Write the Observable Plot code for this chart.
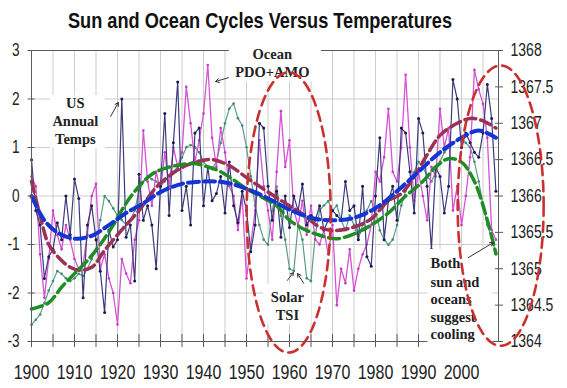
<!DOCTYPE html>
<html><head><meta charset="utf-8">
<script src="https://cdn.jsdelivr.net/npm/d3@7"></script>
<script src="https://cdn.jsdelivr.net/npm/@observablehq/plot@0.6"></script>
<style>
body{margin:0;background:#fff;}
svg{display:block;}
</style></head><body><div id="chart"></div>
<script>
// ---------- data ----------
const firstYear = 1900;
const usTemps = [
 0.75,-0.3,-0.6,-1.7,-1.25,-1.1,-0.55,-0.9,0.0,-0.8,
 0.35,-0.05,-2.1,-0.6,-0.2,-0.9,-1.55,-2.4,-0.7,-1.05,
 -0.9,2.0,-0.85,-0.6,-1.75,0.45,-0.5,-0.2,-0.6,-1.5,
 0.2,1.7,-0.4,1.1,2.35,-0.3,0.2,-0.6,1.3,1.4,
 -0.2,0.6,-0.1,0.05,0.4,-0.35,0.7,-0.2,-0.55,0.1,
 -0.3,-1.15,-0.6,1.5,1.4,0.2,-0.5,0.1,-0.85,0.0,
 -0.65,0.0,-0.3,0.25,-0.6,-0.4,-0.5,-0.2,-0.7,-0.5,
 -0.3,-0.4,-0.5,0.3,-0.3,-0.2,-0.9,0.2,-1.25,-1.45,
 0.0,1.2,-0.9,-0.1,0.2,-0.5,1.4,1.3,0.5,-0.35,
 1.6,1.3,0.2,-1.1,0.6,0.4,-0.35,0.2,2.4,2.0,
 1.0,1.3,1.1,0.9,0.8,1.3,2.3,1.6,0.1
];
const pdoAmo = [
 0.4,0.2,-1.2,-2.1,-1.3,-0.3,-0.8,-1.1,-0.6,-0.9,
 -1.3,-1.5,-1.4,-0.8,0.0,0.25,-1.5,-1.2,-1.7,-2.0,
 -2.65,-1.3,-1.6,-1.8,-0.9,-0.5,1.35,0.3,-0.2,0.5,
 0.1,0.9,0.2,1.0,0.6,0.9,2.25,1.5,0.7,1.15,
 1.7,2.7,1.2,0.6,1.4,0.9,0.2,0.0,-0.7,0.0,
 -1.7,-1.0,-0.3,1.15,0.2,-0.3,-0.9,0.5,1.75,0.6,
 1.15,-0.3,-0.6,-0.1,-0.8,-0.2,-0.9,-1.0,-0.7,-1.2,
 -0.6,-2.25,-1.5,-1.8,-1.1,-1.95,-1.5,-1.2,-1.0,-0.6,
 0.5,0.3,0.8,1.8,0.5,0.3,1.0,2.5,1.0,-0.1,
 0.5,0.0,-0.5,0.6,0.4,1.8,1.0,1.4,-0.3,0.2,
 -0.6,0.0,0.8,2.6,2.2,1.9,1.2,-0.7,-0.9
];
// Solar TSI, W/m² (right axis)
const solarTsi = [
 1364.23,1364.30,1364.37,1364.53,1364.70,1364.83,1364.97,1364.93,1364.87,1364.83,
 1364.87,1364.93,1364.90,1365.00,1365.13,1365.27,1365.67,1366.00,1365.93,1365.83,
 1365.73,1365.67,1365.60,1365.67,1365.80,1366.07,1366.20,1366.27,1366.23,1366.20,
 1366.13,1366.20,1366.27,1366.33,1366.40,1366.53,1366.67,1366.70,1366.67,1366.60,
 1366.47,1366.40,1366.37,1366.47,1366.73,1367.00,1367.20,1367.27,1367.07,1366.97,
 1366.67,1366.27,1365.87,1365.60,1365.40,1365.33,1365.80,1366.13,1365.73,1365.40,
 1365.00,1364.97,1365.60,1365.40,1364.87,1364.83,1365.47,1365.80,1365.87,1365.93,
 1365.80,1365.87,1365.67,1365.53,1365.73,1365.60,1365.40,1365.60,1365.80,1365.93,
 1365.80,1365.53,1365.40,1365.33,1365.40,1365.60,1365.87,1366.07,1366.20,1366.33,
 1366.47,1366.40,1366.27,1366.20,1366.33,1366.47,1366.60,1366.67,1366.73,1366.77,
 1366.80,1366.73,1366.67,1366.47,1366.20,1365.87,1365.60,1365.43,1365.20
];
// smoothed trends [year, value on left axis]
const usTrend = [[1900,0],[1903,-0.5],[1906,-0.75],[1910,-0.88],[1914,-0.82],[1918,-0.6],[1922,-0.35],[1926,-0.15],[1930,0.08],[1935,0.25],[1940,0.3],[1945,0.28],[1950,0.15],[1955,-0.05],[1960,-0.28],[1965,-0.45],[1970,-0.5],[1975,-0.45],[1980,-0.25],[1985,0.1],[1990,0.5],[1995,0.9],[2000,1.2],[2004,1.35],[2008,1.2]];
const pdoTrend = [[1900,0.3],[1902,-0.4],[1904,-1.0],[1907,-1.33],[1909,-1.47],[1911,-1.53],[1914,-1.47],[1917,-1.12],[1921,-0.7],[1925,-0.3],[1929,0.18],[1933,0.48],[1936,0.63],[1939,0.72],[1942,0.75],[1946,0.63],[1950,0.38],[1953,0.2],[1958,-0.09],[1963,-0.37],[1967,-0.64],[1970,-0.71],[1975,-0.64],[1979,-0.47],[1983,-0.1],[1986,0.05],[1989,0.4],[1992,0.85],[1995,1.25],[1999,1.5],[2002,1.6],[2005,1.55],[2008,1.4]];
const tsiTrend = [[1900,-2.33],[1904,-2.2],[1907,-1.88],[1910,-1.6],[1913,-1.33],[1916,-1.0],[1919,-0.6],[1922,-0.15],[1925,0.2],[1928,0.45],[1931,0.57],[1935,0.65],[1938,0.67],[1941,0.6],[1944,0.5],[1947,0.33],[1950,0.15],[1953,0.0],[1957,-0.2],[1960,-0.5],[1964,-0.71],[1967,-0.81],[1971,-0.88],[1975,-0.78],[1979,-0.6],[1983,-0.35],[1987,0.0],[1991,0.3],[1994,0.6],[1997,0.77],[2000,0.7],[2003,0.3],[2006,-0.5],[2008,-1.19]];

const leftTicks = [-3,-2,-1,0,1,2,3];
const rightTicks = [1364,1364.5,1365,1365.5,1366,1366.5,1367,1367.5,1368];
const xLabels = [1900,1910,1920,1930,1940,1950,1960,1970,1980,1990,2000];
const xTicks = [1900,1905,1910,1915,1920,1925,1930,1935,1940,1945,1950,1955,1960,1965,1970,1975,1980,1985,1990,1995,2000,2005];
const xDomain = [1900, 2008.6];

const title = "Sun and Ocean Cycles Versus Temperatures";
const centeredNotes = [
 {text:"US", x:1910.2, y:1.91},
 {text:"Annual", x:1910.2, y:1.54},
 {text:"Temps", x:1910.2, y:1.16},
 {text:"Ocean", x:1956.0, y:2.92},
 {text:"PDO+AMO", x:1956.0, y:2.55},
 {text:"Solar", x:1959.5, y:-2.09},
 {text:"TSI", x:1959.5, y:-2.46}
];
const leftNotes = [
 {text:"Both", x:1992.8, y:-1.39},
 {text:"sun and", x:1992.8, y:-1.78},
 {text:"oceans", x:1992.8, y:-2.13},
 {text:"suggest", x:1992.8, y:-2.50},
 {text:"cooling", x:1992.8, y:-2.86}
];
const noteBoxes = [
 {x1:1904.4, x2:1917.2, y1:0.98, y2:2.07},
 {x1:1946.0, x2:1967.4, y1:2.35, y2:3.15},
 {x1:1954.0, x2:1965.1, y1:-2.65, y2:-1.82},
 {x1:1992.2, x2:2007.3, y1:-3.15, y2:-1.1}
];
const arrows = [
 {x1:1918.4, y1:1.64, x2:1920.2, y2:1.93},
 {x1:1945.8, y1:2.44, x2:1942.8, y2:2.36},
 {x1:1959.5, y1:-1.74, x2:1960.9, y2:-1.58},
 {x1:1963.3, y1:-1.80, x2:1961.9, y2:-1.60},
 {x1:2001.6, y1:-1.27, x2:2007.4, y2:-0.96}
];
const ellipses = [
 {id:"e1", cx:1959.8, cy:-0.34, rx:9.77, ry:2.89},
 {id:"e2", cx:2009.1, cy:-0.2, rx:10.0, ry:2.89}
];

// ---------- build ----------
const tsiToLeft = t => (t - 1366) * 1.5;
const rows = usTemps.map((v, i) => ({year: firstYear + i, us: v, pdo: pdoAmo[i], tsi: tsiToLeft(solarTsi[i])}));
const ellipsePts = ellipses.flatMap(e => d3.range(0, 361, 4).map(a => ({
  id: e.id, x: e.cx + e.rx * Math.cos(a * Math.PI / 180), y: e.cy - e.ry * Math.sin(a * Math.PI / 180)
})));

const sansN = "'Liberation Sans','Arial',sans-serif";
const serif = "'Liberation Serif','Times New Roman',serif";
const gridC = "#cdcdcd", axisC = "#5a5a5a";
const noteStyle = {x: "x", y: "y", text: "text", fontFamily: serif, fontWeight: "bold", fontSize: 14.5, fill: "#222"};

const chart = Plot.plot({
  width: 567, height: 388,
  marginLeft: 31, marginRight: 69, marginTop: 50, marginBottom: 47,
  x: {domain: xDomain, axis: null},
  y: {domain: [-3, 3], axis: null},
  style: {fontFamily: sansN, background: "white", color: "#222", overflow: "visible"},
  marks: [
    Plot.gridX(xTicks.slice(1), {stroke: gridC, strokeOpacity: 1}),
    Plot.gridY(leftTicks.slice(1, -1), {stroke: gridC, strokeOpacity: 1}),
    // raw series
    Plot.line(rows, {x: "year", y: "tsi", stroke: "#5b9c86", strokeWidth: 1.2}),
    Plot.dot(rows, {x: "year", y: "tsi", r: 1.3, fill: "#3f8a70"}),
    Plot.line(rows, {x: "year", y: "pdo", stroke: "#d553d5", strokeWidth: 1.3}),
    Plot.dot(rows, {x: "year", y: "pdo", r: 1.3, fill: "#c13cc1"}),
    Plot.line(rows, {x: "year", y: "us", stroke: "#3b3b7c", strokeWidth: 1.2}),
    Plot.dot(rows, {x: "year", y: "us", r: 1.5, fill: "#1c1c4c"}),
    // trends
    Plot.line(pdoTrend, {x: d => d[0], y: d => d[1], curve: "catmull-rom", stroke: "#9b3155", strokeWidth: 3.5, strokeDasharray: "11,5"}),
    Plot.line(tsiTrend, {x: d => d[0], y: d => d[1], curve: "catmull-rom", stroke: "#1f8c24", strokeWidth: 3.5, strokeDasharray: "11,5"}),
    Plot.line(usTrend, {x: d => d[0], y: d => d[1], curve: "catmull-rom", stroke: "#1434d4", strokeWidth: 4, strokeDasharray: "11,5"}),
    // frame and axes
    Plot.frame({stroke: axisC}),
    Plot.axisY(leftTicks, {anchor: "left", tickSize: 7, dx: 3.5, tickFormat: () => "", stroke: axisC}),
    Plot.axisY(leftTicks, {anchor: "left", tickSize: 0, tickPadding: 12, fontSize: 17.5, tickFormat: d => String(d)}),
    Plot.axisY(rightTicks.map(tsiToLeft), {anchor: "right", tickSize: 8, dx: -4, tickFormat: () => "", stroke: axisC}),
    Plot.axisY(rightTicks.map(tsiToLeft), {anchor: "right", tickSize: 0, tickPadding: 12, fontSize: 18,
      tickFormat: v => String(Math.round((v / 1.5 + 1366) * 10) / 10)}),
    Plot.axisX(xTicks, {anchor: "bottom", tickSize: 13, dy: -7, tickFormat: () => "", stroke: axisC}),
    Plot.axisX(xLabels, {anchor: "bottom", tickSize: 0, tickPadding: 23, fontSize: 20.5, tickFormat: d => String(d)}),
    // annotations
    Plot.rect(noteBoxes, {x1: "x1", x2: "x2", y1: "y1", y2: "y2", fill: "white"}),
    Plot.text(centeredNotes, {...noteStyle, textAnchor: "middle"}),
    Plot.text(leftNotes, {...noteStyle, textAnchor: "start"}),
    Plot.arrow(arrows, {x1: "x1", y1: "y1", x2: "x2", y2: "y2", stroke: "#333", strokeWidth: 1, headLength: 6, bend: 0}),
    Plot.line(ellipsePts, {x: "x", y: "y", z: "id", stroke: "#c9302f", strokeWidth: 2.6, strokeDasharray: "10,6", curve: "linear"})
  ]
});

const titleNode = d3.select(chart).append("text")
  .attr("x", 260).attr("y", 28)
  .attr("text-anchor", "middle")
  .attr("font-family", sansN).attr("font-weight", "bold").attr("font-size", 22)
  .attr("fill", "#111")
  .text(title);

document.getElementById("chart").appendChild(chart);

// narrow the sans-serif labels (no narrow font installed)
function condense(node, k) {
  const L = node.getComputedTextLength();
  node.setAttribute("textLength", (L * k).toFixed(1));
  node.setAttribute("lengthAdjust", "spacingAndGlyphs");
}
d3.select(chart).selectAll('g[aria-label$="tick label"] text').each(function() { condense(this, 0.78); });
titleNode.attr("textLength", 384).attr("lengthAdjust", "spacingAndGlyphs");
</script>
</body></html>
